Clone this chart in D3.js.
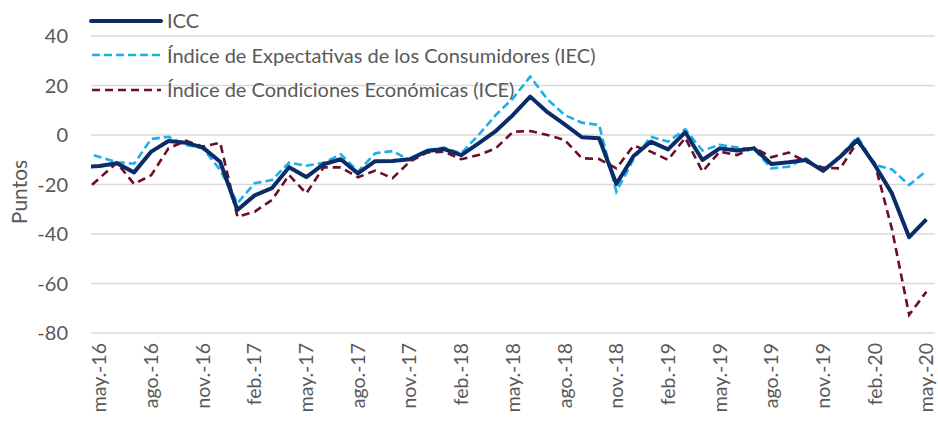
<!DOCTYPE html>
<html>
<head>
<meta charset="utf-8">
<script src="https://cdn.jsdelivr.net/npm/d3@7"></script>
<style>
  body { margin: 0; background: #fff; }
  text { font-family: Lato, "Open Sans", sans-serif; fill: #595959; }
</style>
</head>
<body>
<div id="chart"></div>
<script>
// months: abr-16 (clipped, left of the axis) to may-20
const months = ["abr.-16","may.-16","jun.-16","jul.-16","ago.-16","sep.-16","oct.-16","nov.-16","dic.-16",
  "ene.-17","feb.-17","mar.-17","abr.-17","may.-17","jun.-17","jul.-17","ago.-17","sep.-17","oct.-17","nov.-17","dic.-17",
  "ene.-18","feb.-18","mar.-18","abr.-18","may.-18","jun.-18","jul.-18","ago.-18","sep.-18","oct.-18","nov.-18","dic.-18",
  "ene.-19","feb.-19","mar.-19","abr.-19","may.-19","jun.-19","jul.-19","ago.-19","sep.-19","oct.-19","nov.-19","dic.-19",
  "ene.-20","feb.-20","mar.-20","abr.-20","may.-20"];

const icc = [-13, -12.5, -11.4, -15.1, -6.7, -2.4, -3.1, -5.1, -10.8,
  -30.3, -24.4, -21.5, -13.0, -17.0, -11.8, -9.8, -15.5, -10.6, -10.5, -9.8, -6.5,
  -5.7, -8.1, -3.4, 1.6, 8.1, 15.5, 9.2, 4.3, -0.9, -1.3, -19.8, -8.5,
  -2.7, -5.8, 1.1, -10.1, -5.4, -6.3, -5.4, -11.7, -11.0, -10.1, -14.5, -8.8,
  -2.0, -12.1, -23.6, -41.3, -34.1];

const iec = [-6.8, -8.9, -11.0, -11.6, -1.6, -0.7, -4.0, -5.4, -14.1,
  -27.6, -19.5, -18.2, -11.2, -12.4, -11.2, -7.8, -14.8, -7.4, -6.5, -10.1, -6.1,
  -5.1, -7.4, 0.0, 8.1, 14.8, 23.6, 14.4, 8.1, 5.0, 4.0, -22.9, -9.8,
  -0.7, -2.7, 2.3, -6.3, -4.0, -5.0, -5.8, -13.5, -12.8, -9.4, -14.5, -8.5,
  -0.7, -12.1, -13.9, -20.2, -14.5];

const ice = [-23.6, -17.4, -11.2, -19.8, -16.2, -5.4, -2.3, -4.7, -3.1,
  -33.0, -31.0, -26.3, -16.2, -23.6, -13.1, -13.1, -17.1, -14.4, -17.5, -10.8, -7.1,
  -6.7, -9.8, -8.1, -5.4, 1.3, 1.6, 0.0, -2.0, -9.4, -9.7, -13.5, -4.3,
  -6.7, -10.1, -1.1, -14.8, -6.7, -8.1, -5.1, -9.0, -7.1, -10.8, -13.2, -13.5,
  -2.7, -11.4, -38.0, -72.7, -63.3];

const tickLabels = ["may.-16","ago.-16","nov.-16","feb.-17","may.-17","ago.-17","nov.-17","feb.-18",
  "may.-18","ago.-18","nov.-18","feb.-19","may.-19","ago.-19","nov.-19","feb.-20","may.-20"];
const yTicks = [-80, -60, -40, -20, 0, 20, 40];

const seriesNames = ["ICC", "Índice de Expectativas de los Consumidores (IEC)", "Índice de Condiciones Económicas (ICE)"];

const width = 938, height = 426;
const plotLeft = 91, plotRight = 935, plotTop = 36, plotBottom = 333;

const svg = d3.select("#chart").append("svg")
    .attr("width", width)
    .attr("height", height);

// index 1 = may-16 sits in the middle of the first category
const x = d3.scaleLinear().domain([0.5, months.length - 0.5]).range([plotLeft, plotRight]);
const y = d3.scaleLinear().domain([-80, 40]).range([plotBottom, plotTop]);

// gridlines
svg.append("g")
    .selectAll("line")
    .data(yTicks)
    .join("line")
    .attr("x1", plotLeft)
    .attr("x2", plotRight)
    .attr("y1", d => y(d))
    .attr("y2", d => y(d))
    .attr("stroke", "#d9d9d9")
    .attr("stroke-width", 1.3);

// y labels
svg.append("g")
    .selectAll("text")
    .data(yTicks)
    .join("text")
    .attr("x", 68)
    .attr("y", d => y(d))
    .attr("dy", "0.35em")
    .attr("text-anchor", "end")
    .style("font-size", "20px")
    .text(d => d);

svg.append("text")
    .attr("transform", "translate(27,192) rotate(-90)")
    .attr("text-anchor", "middle")
    .style("font-size", "21px")
    .text("Puntos");

// x labels
svg.append("g")
    .selectAll("text")
    .data(tickLabels)
    .join("text")
    .attr("transform", d => `translate(${x(months.indexOf(d))},343) rotate(-90)`)
    .attr("dy", "0.35em")
    .attr("text-anchor", "end")
    .style("font-size", "19.5px")
    .text(d => d);

svg.append("clipPath")
    .attr("id", "plot")
    .append("rect")
    .attr("x", plotLeft)
    .attr("y", 0)
    .attr("width", plotRight - plotLeft)
    .attr("height", height);

const line = d3.line()
    .x((d, i) => x(i))
    .y(d => y(d));

const plot = svg.append("g").attr("clip-path", "url(#plot)");

plot.append("path")
    .datum(ice)
    .attr("d", line)
    .attr("fill", "none")
    .attr("stroke", "#6b0d2b")
    .attr("stroke-width", 2.6)
    .attr("stroke-dasharray", "8,5");

plot.append("path")
    .datum(iec)
    .attr("d", line)
    .attr("fill", "none")
    .attr("stroke", "#1ab0ea")
    .attr("stroke-width", 2.6)
    .attr("stroke-dasharray", "8,4");

plot.append("path")
    .datum(icc)
    .attr("d", line)
    .attr("fill", "none")
    .attr("stroke", "#0b2c68")
    .attr("stroke-width", 4)
    .attr("stroke-linejoin", "round");

// legend
const legend = svg.append("g");

legend.append("line")
    .attr("x1", 91).attr("x2", 161).attr("y1", 21).attr("y2", 21)
    .attr("stroke", "#0b2c68").attr("stroke-width", 4).attr("stroke-linecap", "round");

legend.append("line")
    .attr("x1", 92).attr("x2", 161).attr("y1", 55).attr("y2", 55)
    .attr("stroke", "#1ab0ea").attr("stroke-width", 2.6).attr("stroke-dasharray", "8,4");

legend.append("line")
    .attr("x1", 92).attr("x2", 161).attr("y1", 90).attr("y2", 90)
    .attr("stroke", "#6b0d2b").attr("stroke-width", 2.6).attr("stroke-dasharray", "8,5");

legend.selectAll("text")
    .data(seriesNames)
    .join("text")
    .attr("x", 167)
    .attr("y", (d, i) => 21 + i * 34.5)
    .attr("dy", "0.35em")
    .style("font-size", "20px")
    .text(d => d);
</script>
</body>
</html>
